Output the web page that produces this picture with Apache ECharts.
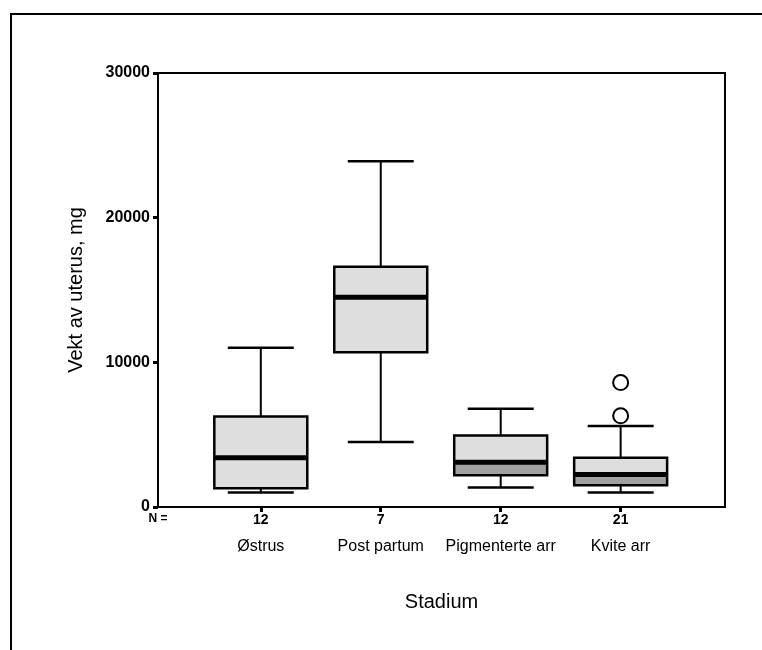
<!DOCTYPE html>
<html>
<head>
<meta charset="utf-8">
<script src="https://cdn.jsdelivr.net/npm/echarts@6/dist/echarts.min.js"></script>
<style>
  html, body { margin: 0; padding: 0; background: #fff; }
  #chart { width: 762px; height: 650px; }
</style>
</head>
<body>
<div id="chart"></div>
<script>
// ---- data ----
const categories = ['Østrus', 'Post partum', 'Pigmenterte arr', 'Kvite arr'];
const nCounts = [12, 7, 12, 21];
const minVals = [1000, 4500, 1350, 1000];
const q1Vals = [1300, 10700, 2200, 1500];
const medianVals = [3400, 14500, 3100, 2250];
const q3Vals = [6250, 16600, 4950, 3400];
const maxVals = [11000, 23900, 6800, 5600];
const outlierCategory = ['Kvite arr', 'Kvite arr'];
const outlierVals = [6300, 8600];
const yTickVals = [0, 10000, 20000, 30000];

// ---- styles ----
const lowerFill = ['#dedede', '#dedede', '#a0a0a0', '#a0a0a0'];
const upperFill = '#dedede';
const FONT = "'Liberation Sans', Arial, sans-serif";
const xMin = 0.143, xMax = 4.87;

const boxData = categories.map((c, i) => [i + 1, minVals[i], q1Vals[i], medianVals[i], q3Vals[i], maxVals[i]]);
const outlierData = outlierCategory.map((c, i) => [categories.indexOf(c) + 1, outlierVals[i]]);

const chart = echarts.init(document.getElementById('chart'), null, { renderer: 'canvas' });

function renderBox(params, api) {
  const i = params.dataIndex;
  const x = api.value(0);
  const pMin = api.coord([x, api.value(1)]);
  const pQ1 = api.coord([x, api.value(2)]);
  const pMed = api.coord([x, api.value(3)]);
  const pQ3 = api.coord([x, api.value(4)]);
  const pMax = api.coord([x, api.value(5)]);
  const bw = api.size([0.775, 0])[0];
  const cw = api.size([0.55, 0])[0];
  const cx = pMed[0];
  const line = (x1, y1, x2, y2, w) => ({
    type: 'line', shape: { x1, y1, x2, y2 },
    style: { stroke: '#000', lineWidth: w }
  });
  return {
    type: 'group',
    children: [
      line(cx, pQ3[1], cx, pMax[1], 2),
      line(cx - cw / 2, pMax[1], cx + cw / 2, pMax[1], 2.5),
      line(cx, pQ1[1], cx, pMin[1], 2),
      line(cx - cw / 2, pMin[1], cx + cw / 2, pMin[1], 2.5),
      { type: 'rect', shape: { x: cx - bw / 2, y: pQ3[1], width: bw, height: pMed[1] - pQ3[1] },
        style: { fill: upperFill } },
      { type: 'rect', shape: { x: cx - bw / 2, y: pMed[1], width: bw, height: pQ1[1] - pMed[1] },
        style: { fill: lowerFill[i] } },
      { type: 'rect', shape: { x: cx - bw / 2, y: pQ3[1], width: bw, height: pQ1[1] - pQ3[1] },
        style: { fill: null, stroke: '#000', lineWidth: 2.5 } },
      line(cx - bw / 2, pMed[1], cx + bw / 2, pMed[1], 5)
    ]
  };
}

const option = {
  backgroundColor: '#fff',
  animation: false,
  textStyle: { fontFamily: FONT },
  grid: {
    show: true, borderColor: '#000', borderWidth: 2,
    left: 158, right: 37, top: 73, bottom: 143, containLabel: false
  },
  graphic: [{
    type: 'polyline',
    shape: { points: [[11, 650], [11, 14], [762, 14]] },
    style: { stroke: '#000', lineWidth: 2, fill: null }
  }],
  xAxis: {
    type: 'value', min: xMin, max: xMax,
    splitLine: { show: false },
    axisLine: { lineStyle: { color: '#000', width: 2 } },
    axisTick: { customValues: [1, 2, 3, 4], length: 5, lineStyle: { color: '#000', width: 3 } },
    axisLabel: {
      customValues: [xMin, 1, 2, 3, 4],
      margin: 4,
      color: '#000',
      formatter: function (v) {
        if (Math.abs(v - xMin) < 0.01) return '{nl|N =}';
        const idx = Math.round(v) - 1;
        return '{n|' + nCounts[idx] + '}\n{c|' + categories[idx] + '}';
      },
      rich: {
        nl: { fontSize: 12, fontFamily: FONT, color: '#000', lineHeight: 16, fontWeight: 'bold' },
        n: { fontSize: 14, fontFamily: FONT, color: '#000', lineHeight: 18, fontWeight: 'bold' },
        c: { fontSize: 16, fontFamily: FONT, color: '#000', lineHeight: 36 }
      }
    },
    name: 'Stadium', nameLocation: 'middle', nameGap: 85,
    nameTextStyle: { fontSize: 20, color: '#000', fontFamily: FONT }
  },
  yAxis: {
    type: 'value', min: yTickVals[0], max: yTickVals[yTickVals.length - 1], interval: 10000,
    splitLine: { show: false },
    axisLine: { show: true, lineStyle: { color: '#000', width: 2 } },
    axisTick: { show: true, length: 5, lineStyle: { color: '#000', width: 3 } },
    axisLabel: {
      fontSize: 16, fontWeight: 'bold', color: '#000', margin: 8, fontFamily: FONT,
      formatter: function (v) { return String(v); }
    },
    name: 'Vekt av uterus, mg', nameLocation: 'middle', nameGap: 72,
    nameTextStyle: { fontSize: 20, color: '#000', fontFamily: FONT }
  },
  series: [
    {
      type: 'custom',
      renderItem: renderBox,
      encode: { x: 0, y: [1, 2, 3, 4, 5] },
      data: boxData,
      z: 2
    },
    {
      type: 'scatter',
      symbol: 'circle', symbolSize: 15,
      itemStyle: { color: '#fff', borderColor: '#000', borderWidth: 2, opacity: 1 },
      data: outlierData,
      z: 3
    }
  ]
};
chart.setOption(option);
</script>
</body>
</html>
